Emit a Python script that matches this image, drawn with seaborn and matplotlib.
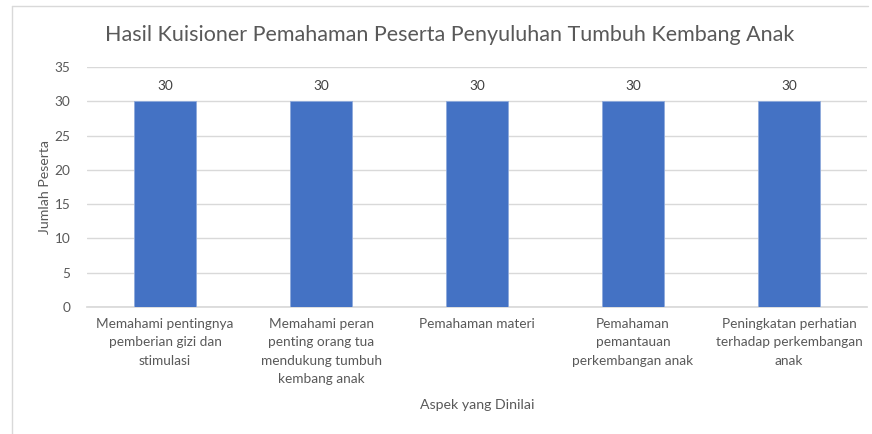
import matplotlib
matplotlib.use("Agg")
import matplotlib.pyplot as plt
import seaborn as sns
import pandas as pd
from matplotlib.lines import Line2D

aspek = [
    "Memahami pentingnya\npemberian gizi dan\nstimulasi",
    "Memahami peran\npenting orang tua\nmendukung tumbuh\nkembang anak",
    "Pemahaman materi",
    "Pemahaman\npemantauan\nperkembangan anak",
    "Peningkatan perhatian\nterhadap perkembangan\nanak",
]
jumlah = [30, 30, 30, 30, 30]
yticks = [0, 5, 10, 15, 20, 25, 30, 35]

df = pd.DataFrame({"aspek": aspek, "jumlah": jumlah})

sns.set_theme(style="white")
plt.rcParams["font.family"] = ["Lato", "DejaVu Sans"]

grey = "#595959"
fig = plt.figure(figsize=(8.72, 4.34), dpi=100)
ax = fig.add_axes([87 / 872, 1 - 307 / 434, 780 / 872, 240 / 434])

sns.barplot(data=df, x="aspek", y="jumlah", color="#4472C4", width=0.4,
            saturation=1, ax=ax, zorder=3)
for p in ax.patches:
    p.set_edgecolor("#8FAADC")
    p.set_linewidth(0.6)

ax.set_ylim(0, 35)
ax.set_yticks(yticks)
ax.set_xlim(-0.5, len(aspek) - 0.5)
ax.grid(axis="y", color="#D9D9D9", linewidth=1, zorder=0)
for s in ["top", "right", "left"]:
    ax.spines[s].set_visible(False)
ax.spines["bottom"].set_color("#D9D9D9")
ax.tick_params(axis="both", length=0, colors=grey, labelsize=9.8, pad=8)
ax.tick_params(axis="y", pad=12)
for lbl in ax.get_xticklabels():
    lbl.set_linespacing(1.62)
    lbl.set_verticalalignment("top")

for p, v in zip(ax.patches, jumlah):
    ax.text(p.get_x() + p.get_width() / 2, v + 1.4, str(v), ha="center",
            va="bottom", fontsize=9.8, color="#404040")

ax.set_xlabel("Aspek yang Dinilai", color=grey, fontsize=10.2)
ax.set_ylabel("Jumlah Peserta", color=grey, fontsize=10.2)
ax.xaxis.set_label_coords(0.5, -0.385)
ax.yaxis.set_label_coords(-0.046, 0.5)

fig.text(450 / 872, 1 - 35 / 434, "Hasil Kuisioner Pemahaman Peserta Penyuluhan Tumbuh Kembang Anak",
         ha="center", va="center", fontsize=15.5, color=grey)

# chart area border
fig.add_artist(Line2D([12 / 872, 12 / 872], [0, 1 - 6 / 434], color="#D9D9D9", lw=1,
                      transform=fig.transFigure))
fig.add_artist(Line2D([12 / 872, 868 / 872], [1 - 6 / 434, 1 - 6 / 434], color="#D9D9D9", lw=1,
                      transform=fig.transFigure))

fig.savefig("out.png", dpi=100, facecolor="white")
